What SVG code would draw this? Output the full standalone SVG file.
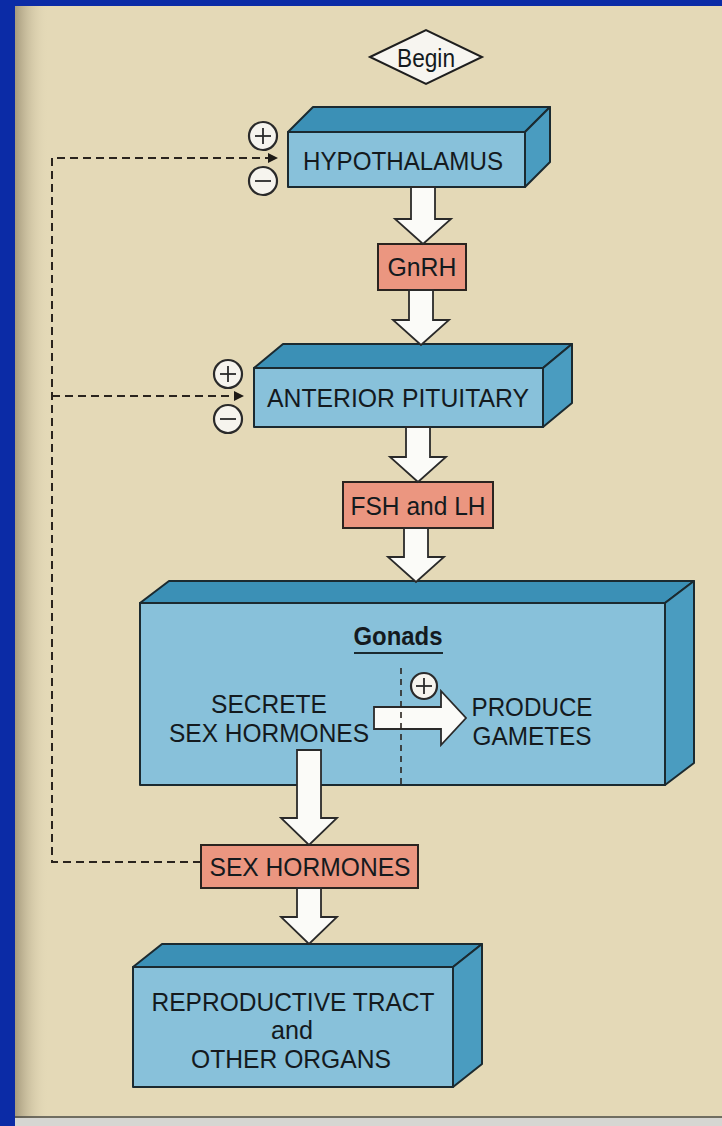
<svg xmlns="http://www.w3.org/2000/svg" width="722" height="1126" viewBox="0 0 722 1126">
  <defs>
    <linearGradient id="gutter" x1="0" y1="0" x2="1" y2="0">
      <stop offset="0" stop-color="#8c8064" stop-opacity="0.7"/>
      <stop offset="1" stop-color="#e4dab8" stop-opacity="0"/>
    </linearGradient>
    <marker id="ah" viewBox="0 0 10 10" refX="10" refY="5" markerWidth="10" markerHeight="11" markerUnits="userSpaceOnUse" orient="auto">
      <path d="M0,0 L10,5 L0,10 Z" fill="#1e1a16"/>
    </marker>
    <style>
      .front { fill: #88c1da; stroke: #1b2a30; stroke-width: 2; stroke-linejoin: round; }
      .top { fill: #3b90b6; stroke: #1b2a30; stroke-width: 2; stroke-linejoin: round; }
      .side { fill: #4a9cc0; stroke: #1b2a30; stroke-width: 2; stroke-linejoin: round; }
      .pink { fill: #eb9680; stroke: #2a2420; stroke-width: 2; }
      .blk { fill: #fbfbf8; stroke: #2a2a2a; stroke-width: 1.8; stroke-linejoin: miter; }
      .dash { fill: none; stroke: #2a241e; stroke-width: 2; stroke-dasharray: 8 5; }
      .dash2 { fill: none; stroke: #2a241e; stroke-width: 1.6; stroke-dasharray: 6 5; }
      .sign { fill: #f6f4ee; stroke: #2a2a2a; stroke-width: 2.2; }
      .signline { stroke: #2a2a2a; stroke-width: 1.8; }
      .t { font-family: "Liberation Sans", Arial, sans-serif; font-size: 26px; fill: #141a1e; text-anchor: middle; }
      .tb { font-family: "Liberation Sans", Arial, sans-serif; font-size: 26px; font-weight: bold; fill: #141a1e; text-anchor: middle; }
    </style>
  </defs>

  <!-- frame and page -->
  <rect x="0" y="0" width="722" height="1126" fill="#0b2ba6"/>
  <rect x="15" y="6" width="707" height="1112" fill="#e4d9b7"/>
  <rect x="15" y="6" width="34" height="1112" fill="url(#gutter)"/>
  <line x1="15" y1="1117" x2="722" y2="1117" stroke="#4a4a44" stroke-width="1.5"/>
  <rect x="15" y="1118" width="707" height="8" fill="#d6d6d2"/>

  <!-- connectors -->
  <g id="connectors">
    <path class="dash" d="M201,862 H52 V158 H278" marker-end="url(#ah)"/>
    <path class="dash" d="M52,396 H244" marker-end="url(#ah)"/>
  </g>

  <g id="begin">
    <path d="M370,57 L426,30 L482,57 L426,84 Z" fill="#f7f5f0" stroke="#1e1e1e" stroke-width="2"/>
    <text class="t" x="426" y="67" textLength="58" lengthAdjust="spacingAndGlyphs">Begin</text>
  </g>

  <g id="hypothalamus">
    <path class="top" d="M288,132 L313,107 L550,107 L525,132 Z"/>
    <path class="side" d="M525,132 L550,107 L550,162 L525,187 Z"/>
    <rect class="front" x="288" y="132" width="237" height="55"/>
    <text class="t" x="403" y="170" textLength="200" lengthAdjust="spacingAndGlyphs">HYPOTHALAMUS</text>
  </g>

  <g id="gnrh">
    <rect class="pink" x="378" y="244" width="88" height="46"/>
    <text class="t" x="422" y="276" textLength="69" lengthAdjust="spacingAndGlyphs">GnRH</text>
  </g>

  <g id="anterior-pituitary">
    <path class="top" d="M254,368 L283,344 L572,344 L543,368 Z"/>
    <path class="side" d="M543,368 L572,344 L572,403 L543,427 Z"/>
    <rect class="front" x="254" y="368" width="289" height="59"/>
    <text class="t" x="398" y="407" textLength="262" lengthAdjust="spacingAndGlyphs">ANTERIOR PITUITARY</text>
  </g>

  <g id="fsh-lh">
    <rect class="pink" x="343" y="482" width="150" height="46"/>
    <text class="t" x="418" y="515" textLength="135" lengthAdjust="spacingAndGlyphs">FSH and LH</text>
  </g>

  <g id="gonads">
    <path class="top" d="M140,603 L169,581 L694,581 L665,603 Z"/>
    <path class="side" d="M665,603 L694,581 L694,763 L665,785 Z"/>
    <rect class="front" x="140" y="603" width="525" height="182"/>
    <text class="tb" x="398" y="645" textLength="89" lengthAdjust="spacingAndGlyphs">Gonads</text>
    <line x1="354" y1="653" x2="443" y2="653" stroke="#1b2a30" stroke-width="2"/>
    <text class="t" x="269" y="713" textLength="116" lengthAdjust="spacingAndGlyphs">SECRETE</text>
    <text class="t" x="269" y="742" textLength="200" lengthAdjust="spacingAndGlyphs">SEX HORMONES</text>
    <text class="t" x="532" y="716" textLength="121" lengthAdjust="spacingAndGlyphs">PRODUCE</text>
    <text class="t" x="532" y="745" textLength="119" lengthAdjust="spacingAndGlyphs">GAMETES</text>
    <path class="blk" d="M374,707 H441 V691 L466,718 L441,745 V729 H374 Z"/>
    <line class="dash2" x1="401" y1="668" x2="401" y2="785"/>
    <circle class="sign" cx="424" cy="686" r="13"/>
    <line class="signline" x1="416" y1="686" x2="432" y2="686"/>
    <line class="signline" x1="424" y1="678" x2="424" y2="694"/>
  </g>

  <g id="sex-hormones">
    <rect class="pink" x="201" y="845" width="217" height="43"/>
    <text class="t" x="310" y="876" textLength="201" lengthAdjust="spacingAndGlyphs">SEX HORMONES</text>
  </g>

  <g id="reproductive-tract">
    <path class="top" d="M133,967 L162,944 L482,944 L453,967 Z"/>
    <path class="side" d="M453,967 L482,944 L482,1064 L453,1087 Z"/>
    <rect class="front" x="133" y="967" width="320" height="120"/>
    <text class="t" x="293" y="1011" textLength="283" lengthAdjust="spacingAndGlyphs">REPRODUCTIVE TRACT</text>
    <text class="t" x="292" y="1039" textLength="42" lengthAdjust="spacingAndGlyphs">and</text>
    <text class="t" x="291" y="1068" textLength="200" lengthAdjust="spacingAndGlyphs">OTHER ORGANS</text>
  </g>

  <!-- block arrows -->
  <g id="flow-arrows">
    <path class="blk" d="M411,187 H435 V219 H451 L423,244 L395,219 H411 Z"/>
    <path class="blk" d="M409,290 H433 V320 H449 L421,345 L393,320 H409 Z"/>
    <path class="blk" d="M406,427 H430 V457 H446 L418,482 L390,457 H406 Z"/>
    <path class="blk" d="M404,528 H428 V557 H444 L416,582 L388,557 H404 Z"/>
    <path class="blk" d="M297,750 H321 V818 H337 L309,845 L281,818 H297 Z"/>
    <path class="blk" d="M297,888 H321 V917 H337 L309,944 L281,917 H297 Z"/>
  </g>

  <!-- feedback signs -->
  <g id="signs">
    <circle class="sign" cx="263" cy="136" r="14"/>
    <line class="signline" x1="255" y1="136" x2="271" y2="136"/>
    <line class="signline" x1="263" y1="128" x2="263" y2="144"/>
    <circle class="sign" cx="263" cy="181" r="14"/>
    <line class="signline" x1="255" y1="181" x2="271" y2="181"/>
    <circle class="sign" cx="228" cy="374" r="14"/>
    <line class="signline" x1="220" y1="374" x2="236" y2="374"/>
    <line class="signline" x1="228" y1="366" x2="228" y2="382"/>
    <circle class="sign" cx="228" cy="419" r="14"/>
    <line class="signline" x1="220" y1="419" x2="236" y2="419"/>
  </g>
</svg>
